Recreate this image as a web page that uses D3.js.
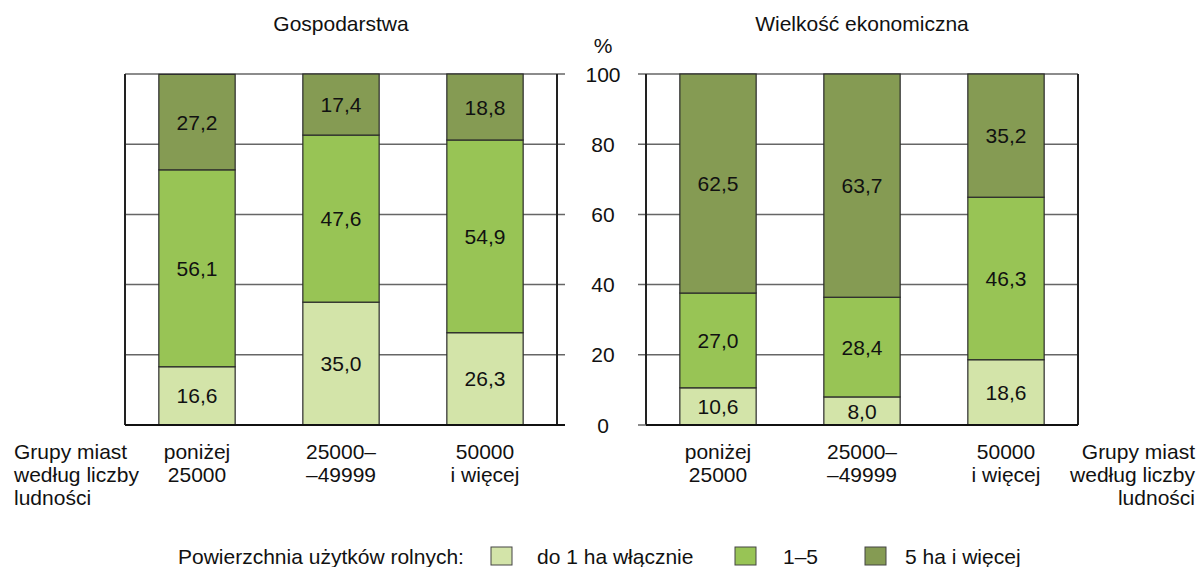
<!DOCTYPE html>
<html>
<head>
<meta charset="utf-8">
<title>Gospodarstwa i wielkość ekonomiczna</title>
<script src="https://d3js.org/d3.v7.min.js"></script>
<style>
    body { margin: 0; background: #fff; }
    svg text { font-family: "Liberation Sans", Arial, sans-serif; fill: #111; }
</style>
</head>
<body>
<div id="chart"></div>
<script>
// dane
var categories = ["poniżej 25000", "25000–49999", "50000 i więcej"];
var categoryLines = [["poniżej", "25000"], ["25000–", "–49999"], ["50000", "i więcej"]];
var seriesNames = ["do 1 ha włącznie", "1–5", "5 ha i więcej"];
var gospodarstwa = [[16.6, 56.1, 27.2], [35.0, 47.6, 17.4], [26.3, 54.9, 18.8]];
var wielkosc = [[10.6, 27.0, 62.5], [8.0, 28.4, 63.7], [18.6, 46.3, 35.2]];
var yTicks = [0, 20, 40, 60, 80, 100];
var colors = ["#d3e4a9", "#98c455", "#859b53"];

var width = 1197, height = 567;
var fs = "21px";
var svg = d3.select("#chart").append("svg")
    .attr("width", width).attr("height", height);

var y = d3.scaleLinear().domain([0, 100]).range([425, 74]).clamp(true);

function fmt(v) { return d3.format(".1f")(v).replace(".", ","); }

function drawPanel(x0, x1, data, title, tickSide) {
    var x = d3.scaleBand().domain(categories).range([x0, x1]).paddingInner(0.47).paddingOuter(0.235);
    var g = svg.append("g");

    // linie siatki
    g.selectAll("line.grid").data(yTicks.filter(function(d) { return d > 0; }))
        .enter().append("line")
        .attr("x1", tickSide === "right" ? x0 : x0 - 8)
        .attr("x2", tickSide === "right" ? x1 + 8 : x1)
        .attr("y1", function(d) { return y(d); })
        .attr("y2", function(d) { return y(d); })
        .attr("stroke", "#666").attr("stroke-width", 1.5);

    // słupki
    data.forEach(function(vals, i) {
        var cum = 0;
        vals.forEach(function(v, j) {
            var y0 = cum, y1 = cum + v;
            cum = y1;
            g.append("rect")
                .attr("x", x(categories[i]))
                .attr("width", x.bandwidth())
                .attr("y", y(y1))
                .attr("height", y(y0) - y(y1))
                .attr("fill", colors[j])
                .attr("stroke", "#2b2b2b").attr("stroke-width", 1.2);
            g.append("text")
                .attr("x", x(categories[i]) + x.bandwidth() / 2)
                .attr("y", (y(y0) + y(y1)) / 2)
                .attr("dy", "0.36em")
                .attr("text-anchor", "middle")
                .style("font-size", fs)
                .text(fmt(v));
        });
    });

    // ramka panelu
    g.append("line").attr("x1", x0).attr("x2", x0).attr("y1", y(100)).attr("y2", y(0))
        .attr("stroke", "#222").attr("stroke-width", 2);
    g.append("line").attr("x1", x1).attr("x2", x1).attr("y1", y(100)).attr("y2", y(0))
        .attr("stroke", "#222").attr("stroke-width", 2);
    g.append("line")
        .attr("x1", x0).attr("x2", tickSide === "right" ? x1 + 8 : x1)
        .attr("y1", y(0)).attr("y2", y(0))
        .attr("stroke", "#111").attr("stroke-width", 2);
    if (tickSide !== "right") {
        g.append("line").attr("x1", x0 - 8).attr("x2", x0).attr("y1", y(0)).attr("y2", y(0))
            .attr("stroke", "#666").attr("stroke-width", 1.5);
    }

    g.append("text")
        .attr("x", (x0 + x1) / 2).attr("y", 31)
        .attr("text-anchor", "middle")
        .style("font-size", fs)
        .text(title);

    categoryLines.forEach(function(lines, i) {
        var t = g.append("text")
            .attr("text-anchor", "middle")
            .style("font-size", fs);
        lines.forEach(function(l, k) {
            t.append("tspan")
                .attr("x", x(categories[i]) + x.bandwidth() / 2)
                .attr("y", 459 + k * 23)
                .text(l);
        });
    });
}

drawPanel(125, 557, gospodarstwa, "Gospodarstwa", "right");
drawPanel(646, 1078, wielkosc, "Wielkość ekonomiczna", "left");

// oś Y w środku
svg.append("g").selectAll("text").data(yTicks).enter().append("text")
    .attr("x", 603).attr("y", function(d) { return y(d); })
    .attr("dy", "0.36em")
    .attr("text-anchor", "middle")
    .style("font-size", fs)
    .text(function(d) { return d; });
svg.append("text").attr("x", 603).attr("y", 53)
    .attr("text-anchor", "middle").style("font-size", fs).text("%");

// opisy osi X
var axisLines = ["Grupy miast", "według liczby", "ludności"];
var leftLab = svg.append("text").style("font-size", fs);
axisLines.forEach(function(l, k) {
    leftLab.append("tspan").attr("x", 14).attr("y", 459 + k * 23).text(l);
});
var rightLab = svg.append("text").attr("text-anchor", "end").style("font-size", fs);
axisLines.forEach(function(l, k) {
    rightLab.append("tspan").attr("x", 1195).attr("y", 459 + k * 23).text(l);
});

// legenda
var legend = svg.append("g");
legend.append("text").attr("x", 178).attr("y", 564).style("font-size", fs)
    .text("Powierzchnia użytków rolnych:");
var legendX = [491, 735, 865];
var legendTextX = [537, 783, 905];
seriesNames.forEach(function(name, j) {
    legend.append("rect")
        .attr("x", legendX[j]).attr("y", 547)
        .attr("width", 21).attr("height", 18)
        .attr("fill", colors[j]).attr("stroke", "#444").attr("stroke-width", 1);
    legend.append("text")
        .attr("x", legendTextX[j]).attr("y", 564)
        .style("font-size", fs)
        .text(name);
});
</script>
</body>
</html>
